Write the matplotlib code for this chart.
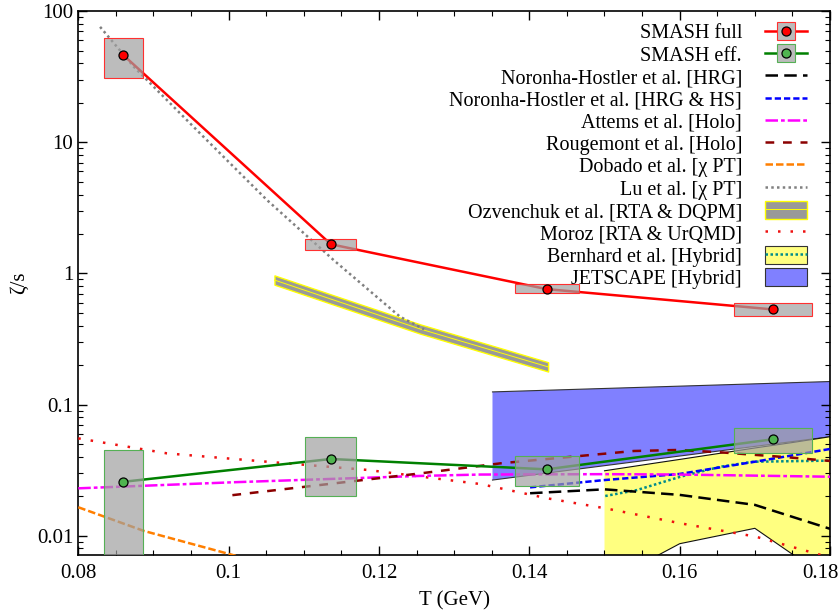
import matplotlib
matplotlib.use('Agg')
import numpy as np
import matplotlib.pyplot as plt
import matplotlib.transforms as mtransforms
from matplotlib.lines import Line2D
from matplotlib.patches import Patch, Rectangle
from matplotlib.ticker import FuncFormatter, MultipleLocator, LogLocator, NullFormatter

plt.rcParams['font.family'] = ['Liberation Serif', 'DejaVu Serif']

# SMASH results (T in GeV, zeta/s)
T_smash = [0.0860, 0.1136, 0.1423, 0.1724]
T_smash_lo = [0.0834, 0.1102, 0.1381, 0.1672]
T_smash_hi = [0.0886, 0.1170, 0.1466, 0.1776]
full = [46.2, 1.67, 0.760, 0.532]
full_lo = [30.7, 1.51, 0.705, 0.471]
full_hi = [61.9, 1.84, 0.826, 0.592]
eff = [0.0258, 0.0385, 0.0321, 0.0544]
eff_lo = [0.005, 0.0200, 0.0238, 0.0426]
eff_hi = [0.0449, 0.0566, 0.0404, 0.0659]

# other calculations
T_hrg = [0.1401, 0.150, 0.160, 0.170, 0.180]
z_hrg = [0.0211, 0.0226, 0.0205, 0.0172, 0.0113]
T_hs = [0.1401, 0.150, 0.160, 0.170, 0.180]
z_hs = [0.0234, 0.0266, 0.0296, 0.0367, 0.0459]
T_attems = [0.080, 0.1007, 0.1255, 0.1335, 0.150, 0.160, 0.180]
z_attems = [0.0230, 0.0256, 0.0286, 0.0293, 0.0295, 0.0293, 0.0282]
T_roug = [0.1005, 0.1255, 0.1362, 0.1539, 0.1597, 0.1654, 0.1743, 0.180]
z_roug = [0.0204, 0.0299, 0.0357, 0.0443, 0.0451, 0.0433, 0.0397, 0.0372]
T_dobado = [0.080, 0.0887, 0.0989, 0.104]
z_dobado = [0.0165, 0.0109, 0.00757, 0.0063]
T_lu = [0.0829, 0.0874, 0.0962, 0.1051, 0.1140, 0.1228, 0.1260]
z_lu = [75.9, 37.6, 11.7, 3.63, 1.26, 0.468, 0.375]
T_ozv = [0.1061, 0.1140, 0.1255, 0.1425]
z_ozv = [0.891, 0.627, 0.377, 0.194]
T_moroz = [0.080, 0.0918, 0.1051, 0.1184, 0.1335, 0.1424, 0.1501, 0.1601, 0.1701, 0.1783, 0.180]
z_moroz = [0.0553, 0.0425, 0.0367, 0.0318, 0.0248, 0.0193, 0.0162, 0.01245, 0.00985, 0.00727, 0.0068]
T_bern = [0.150, 0.1567, 0.160, 0.170, 0.1752, 0.180]
z_bern_lo = [0.0045, 0.0069, 0.0087, 0.0114, 0.0071, 0.0045]
z_bern_hi = [0.0313, 0.0358, 0.0382, 0.0467, 0.0516, 0.0569]
T_bern_c = [0.1501, 0.1543, 0.1601, 0.1654, 0.1698, 0.180]
z_bern_c = [0.0201, 0.0223, 0.0282, 0.0336, 0.0367, 0.0374]
T_jet = [0.1351, 0.180]
z_jet_lo = [0.0266, 0.0569]
z_jet_hi = [0.125, 0.150]

fs = 15
fig = plt.figure(figsize=(8.39, 6.10), dpi=100)
ax = fig.add_axes([0.0933, 0.0897, 0.896, 0.892])
ax.set_yscale('log')

# bands
ax.fill_between(T_jet, z_jet_lo, z_jet_hi, facecolor='#8080ff', edgecolor='none', zorder=1)
ax.plot(T_jet, z_jet_lo, color='#333333', lw=0.8, zorder=1)
ax.plot(T_jet, z_jet_hi, color='#333333', lw=0.8, zorder=1)
ax.fill_between(T_bern, z_bern_lo, z_bern_hi, facecolor='#ffff80', edgecolor='none', zorder=1)
ax.plot(T_bern, z_bern_lo, color='#111111', lw=0.8, zorder=1)
ax.plot(T_bern, z_bern_hi, color='#111111', lw=0.8, zorder=1)
ozv_lo = [z / 1.085 for z in z_ozv]
ozv_hi = [z * 1.085 for z in z_ozv]
ax.fill_between(T_ozv, ozv_lo, ozv_hi, facecolor='#999999', edgecolor='#ffff00', lw=1.0, zorder=2)
ax.plot(T_ozv, z_ozv, color='#ffff00', lw=0.7, zorder=2)

# theory curves
lw = 1.8
ax.plot(T_moroz, z_moroz, color='#ee1111', lw=lw, dashes=(1, 4), zorder=3)
ax.plot(T_bern_c, z_bern_c, color='#008b8b', lw=lw, dashes=(1, 1), zorder=3)
ax.plot(T_hrg, z_hrg, color='black', lw=lw, dashes=(5, 2.5), zorder=3)
ax.plot(T_hs, z_hs, color='#0000ff', lw=lw, dashes=(2.5, 1.2), zorder=3)
ax.plot(T_attems, z_attems, color='#ff00ff', lw=lw, dashes=(5, 1.2, 1.5, 1.2), zorder=3)
ax.plot(T_roug, z_roug, color='#8b0000', lw=lw, dashes=(3.5, 3.5), zorder=3)
ax.plot(T_dobado, z_dobado, color='#ff7f00', lw=lw, dashes=(3, 1.2), zorder=3)
ax.plot(T_lu, z_lu, color='#808080', lw=lw, dashes=(1, 1.3), zorder=3)

# SMASH
ax.plot(T_smash, full, color='#ff0000', lw=1.8, zorder=4)
ax.plot(T_smash, eff, color='#008000', lw=1.8, zorder=4)
for i in range(len(T_smash)):
    w = T_smash_hi[i] - T_smash_lo[i]
    ax.add_patch(Rectangle((T_smash_lo[i], full_lo[i]), w, full_hi[i] - full_lo[i],
                           facecolor='#a0a0a0', alpha=0.7, edgecolor='none', zorder=5))
    ax.add_patch(Rectangle((T_smash_lo[i], full_lo[i]), w, full_hi[i] - full_lo[i],
                           facecolor='none', edgecolor='#ff3030', lw=0.8, zorder=5))
    ax.add_patch(Rectangle((T_smash_lo[i], eff_lo[i]), w, eff_hi[i] - eff_lo[i],
                           facecolor='#a0a0a0', alpha=0.7, edgecolor='none', zorder=5))
    ax.add_patch(Rectangle((T_smash_lo[i], eff_lo[i]), w, eff_hi[i] - eff_lo[i],
                           facecolor='none', edgecolor='#55b055', lw=0.8, zorder=5))
ax.plot(T_smash, full, 'o', ms=6.5, mfc='#ff0000', mec='black', mew=0.9, zorder=6)
ax.plot(T_smash, eff, 'o', ms=6.5, mfc='#50b450', mec='black', mew=0.9, zorder=6)

x_min, x_max = 0.08, 0.18
ax.set_xlim(x_min, x_max)
ax.set_ylim(0.0071, 100)


def xfmt(v, p):
    # the right-most label is drawn separately, shifted inside the figure
    if abs(v - x_max) < 1e-9:
        return ''
    return '%g' % round(v, 3)


ax.xaxis.set_major_locator(MultipleLocator(0.02))
ax.xaxis.set_minor_locator(MultipleLocator(0.005))
ax.xaxis.set_major_formatter(FuncFormatter(xfmt))
ax.yaxis.set_major_locator(LogLocator(base=10))
ax.yaxis.set_minor_locator(LogLocator(base=10, subs=np.arange(2, 10)))
ax.yaxis.set_minor_formatter(NullFormatter())
ax.yaxis.set_major_formatter(FuncFormatter(lambda v, p: '%g' % v))
ax.tick_params(which='both', direction='in', top=True, right=True, labelsize=fs)
ax.tick_params(which='major', length=6.5, width=1)
ax.tick_params(which='minor', length=3.5, width=0.8)
ax.tick_params(axis='x', which='major', pad=6)
for s in ax.spines.values():
    s.set_linewidth(1.2)
ax.set_xlabel('T (GeV)', fontsize=fs, labelpad=6)
ax.set_ylabel('ζ/s', fontsize=fs, labelpad=6)

shift = mtransforms.ScaledTranslation(-0.10, -6 / 72, fig.dpi_scale_trans)
ax.text(x_max, 0, '%g' % x_max, fontsize=fs, ha='center', va='top',
        transform=ax.get_xaxis_transform() + shift)

# legend
handles = [
    (Line2D([], [], color='#ff0000', lw=1.8),
     Line2D([], [], ls='none', marker='s', ms=13, mfc='#bbbbbb', mec='#ff3030', mew=0.8),
     Line2D([], [], ls='none', marker='o', ms=6.5, mfc='#ff0000', mec='black', mew=0.9)),
    (Line2D([], [], color='#008000', lw=1.8),
     Line2D([], [], ls='none', marker='s', ms=13, mfc='#bbbbbb', mec='#55b055', mew=0.8),
     Line2D([], [], ls='none', marker='o', ms=6.5, mfc='#50b450', mec='black', mew=0.9)),
    Line2D([], [], color='black', lw=lw, dashes=(5, 2.5)),
    Line2D([], [], color='#0000ff', lw=lw, dashes=(2.5, 1.2)),
    Line2D([], [], color='#ff00ff', lw=lw, dashes=(5, 1.2, 1.5, 1.2)),
    Line2D([], [], color='#8b0000', lw=lw, dashes=(3.5, 3.5)),
    Line2D([], [], color='#ff7f00', lw=lw, dashes=(3, 1.2)),
    Line2D([], [], color='#808080', lw=lw, dashes=(1, 1.3)),
    (Patch(facecolor='#999999', edgecolor='#ffff00', lw=1.0),
     Line2D([], [], color='#ffff00', lw=0.7)),
    Line2D([], [], color='#ee1111', lw=lw, dashes=(1, 4)),
    (Patch(facecolor='#ffff80', edgecolor='#333333', lw=0.8),
     Line2D([], [], color='#008b8b', lw=lw, dashes=(1, 1))),
    Patch(facecolor='#8080ff', edgecolor='#333333', lw=0.8),
]
labels = ['SMASH full', 'SMASH eff.', 'Noronha-Hostler et al. [HRG]',
          'Noronha-Hostler et al. [HRG & HS]', 'Attems et al. [Holo]',
          'Rougemont et al. [Holo]', 'Dobado et al. [χ PT]', 'Lu et al. [χ PT]',
          'Ozvenchuk et al. [RTA & DQPM]', 'Moroz [RTA & UrQMD]',
          'Bernhard et al. [Hybrid]', 'JETSCAPE [Hybrid]']
leg = ax.legend(handles, labels, loc='upper right', bbox_to_anchor=(0.970, 0.979),
                frameon=False, markerfirst=False, fontsize=14.5, borderpad=0,
                borderaxespad=0, labelspacing=0.07, handlelength=2.1,
                handleheight=1.0, handletextpad=1.15)
leg.set_zorder(10)

fig.savefig('out.png', dpi=100)
